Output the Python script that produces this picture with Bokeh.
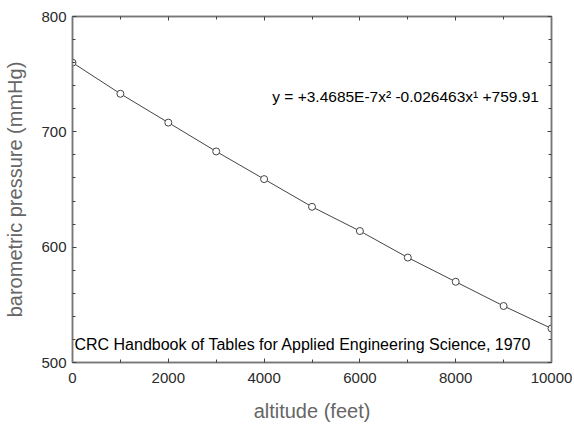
from bokeh.plotting import figure
from bokeh.models import LinearAxis, FixedTicker, Label, Range1d, CustomJSTickFormatter
from bokeh.embed import file_html
from bokeh.resources import INLINE

altitude_ft = [0, 1000, 2000, 3000, 4000, 5000, 6000, 7000, 8000, 9000, 10000]
pressure_mmhg = [760, 733, 708, 683, 659, 635, 614, 591, 570, 549, 529.5]

x_major = [0, 2000, 4000, 6000, 8000, 10000]
x_minor = [1000, 3000, 5000, 7000, 9000]
y_major = [500, 600, 700, 800]
y_minor = [520, 540, 560, 580, 620, 640, 660, 680, 720, 740, 760, 780]

equation = "y = +3.4685E-7x\u00b2 -0.026463x\u00b9 +759.91"
source_note = "CRC Handbook of Tables for Applied Engineering Science, 1970"

FONT = "Liberation Sans"
AX = "#777777"

p = figure(width=572, height=424, x_range=Range1d(0, 10000), y_range=Range1d(500, 800),
           output_backend="svg", toolbar_location=None,
           min_border_left=72, min_border_right=21, min_border_top=16, min_border_bottom=58,
           x_axis_label="altitude (feet)", y_axis_label="barometric pressure (mmHg)")
p.grid.visible = False
p.outline_line_color = AX
p.outline_line_width = 1.5
p.background_fill_color = "white"
p.border_fill_color = "white"

def style(ax, ticks, minor, show_labels):
    ax.ticker = FixedTicker(ticks=ticks, minor_ticks=minor)
    ax.axis_line_color = AX
    ax.axis_line_width = 1.5
    ax.major_tick_in = 4
    ax.major_tick_out = 0
    ax.minor_tick_in = 3
    ax.minor_tick_out = 0
    ax.major_tick_line_color = "#444444"
    ax.minor_tick_line_color = "#444444"
    if show_labels:
        ax.major_label_text_font = FONT
        ax.major_label_text_font_size = "15px"
        ax.major_label_text_color = "#2a2a2a"
        ax.axis_label_text_font = FONT
        ax.axis_label_text_font_size = "20px"
        ax.axis_label_text_font_style = "normal"
        ax.axis_label_text_color = "#666666"
    else:
        ax.formatter = CustomJSTickFormatter(code="return ''")
        ax.major_label_standoff = 0

style(p.xaxis[0], x_major, x_minor, True)
style(p.yaxis[0], y_major, y_minor, True)
p.xaxis[0].major_label_standoff = 10
p.xaxis[0].axis_label_standoff = 14
p.yaxis[0].major_label_standoff = 6
p.yaxis[0].axis_label_standoff = 12

top = LinearAxis()
style(top, x_major, x_minor, False)
p.add_layout(top, "above")
right = LinearAxis()
style(right, y_major, y_minor, False)
p.add_layout(right, "right")

p.line(altitude_ft, pressure_mmhg, line_color="#444444", line_width=1)
p.scatter(altitude_ft, pressure_mmhg, marker="circle", size=7, line_color="#444444",
          fill_color="white", line_width=1)

p.add_layout(Label(x=4170, y=731, text=equation, text_font=FONT, text_font_size="15.5px",
                   text_color="black", text_baseline="middle"))
p.add_layout(Label(x=40, y=515.5, text=source_note, text_font=FONT, text_font_size="16px",
                   text_color="black", text_baseline="middle"))

open("out.html", "w").write(file_html(p, INLINE))
